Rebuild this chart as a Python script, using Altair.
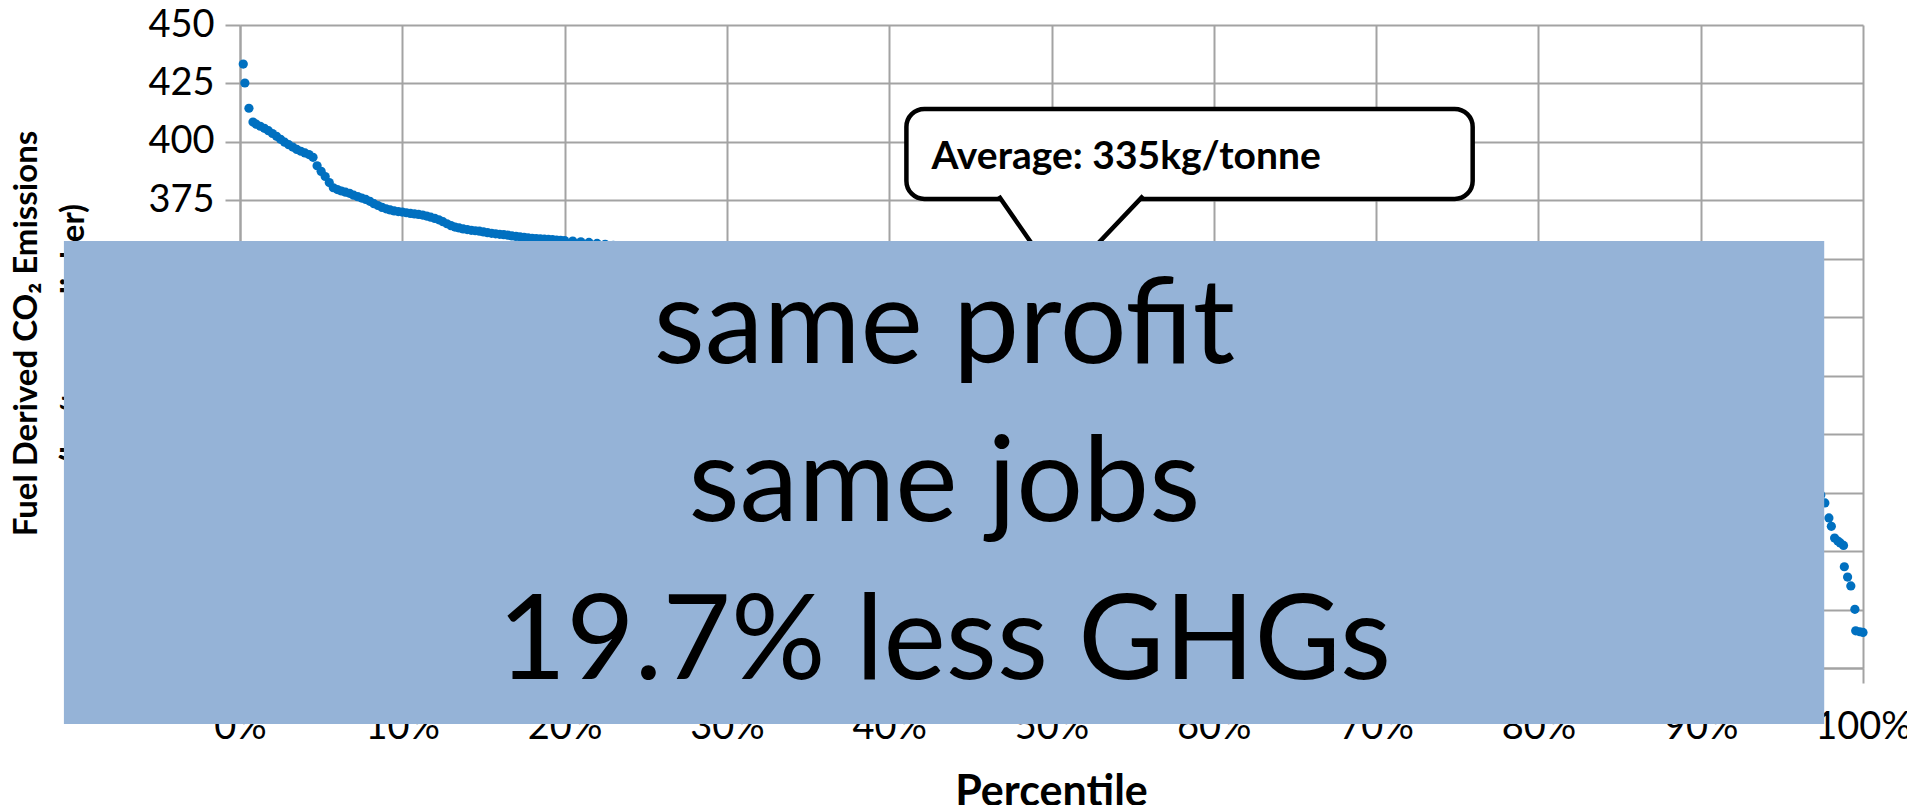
import altair as alt
import pandas as pd

# ---------------- data ----------------
# visible band on the left (percentile, kg CO2 / tonne)
pct_left = [0.2, 0.3, 0.55, 0.8,
            1.0, 1.25, 1.5, 1.75, 2.0, 2.25, 2.5, 2.75, 3.0, 3.25, 3.5, 3.75, 4.0, 4.25, 4.5, 4.75,
            5.0, 5.25, 5.5, 5.75, 6.0, 6.25, 6.5, 6.75, 7.0, 7.25, 7.5, 7.75, 8.0, 8.25, 8.5, 8.75,
            9.0, 9.25, 9.5, 9.75, 10.0, 10.25, 10.5, 10.75, 11.0, 11.25, 11.5, 11.75, 12.0, 12.25,
            12.5, 12.75, 13.0, 13.25, 13.5, 13.75, 14.0, 14.25, 14.5, 14.75, 15.0, 15.25, 15.5,
            15.75, 16.0, 16.25, 16.5, 16.75, 17.0, 17.25, 17.5, 17.75, 18.0, 18.25, 18.5, 18.75,
            19.0, 19.25, 19.5, 19.75, 20.0, 20.5, 21.0, 21.5, 22.0, 22.5, 23.0]
val_left = [433.3, 425.2, 414.4, 408.5,
            407.6, 406.7, 405.8, 404.8, 403.6, 402.4, 401.1, 399.9, 398.8, 397.8, 396.8, 396.0, 395.3, 394.6, 393.4, 389.8,
            387.4, 385.2, 382.6, 380.4, 379.6, 379.0, 378.5, 378.0, 377.2, 376.6, 376.0, 375.4, 374.6, 373.6, 372.8, 372.0,
            371.4, 370.9, 370.5, 370.2, 370.0, 369.7, 369.4, 369.2, 369.0, 368.7, 368.3, 367.8, 367.3, 366.7,
            365.9, 365.0, 364.2, 363.6, 363.2, 362.8, 362.5, 362.2, 362.0, 361.8, 361.5, 361.2, 360.9,
            360.7, 360.5, 360.3, 360.1, 359.8, 359.6, 359.4, 359.2, 359.0, 358.8, 358.6, 358.5, 358.4,
            358.3, 358.2, 358.0, 357.9, 357.8, 357.6, 357.3, 357.0, 356.6, 356.2, 355.8]

# middle part (covered by the overlay box, estimated)
pct_mid = [24, 25, 26, 27, 28, 29, 30, 31, 32, 33, 34, 35, 36, 37, 38, 39, 40, 41, 42, 43, 44, 45,
           46, 47, 48, 49, 50, 51, 52, 53, 54, 55, 56, 57, 58, 59, 60, 61, 62, 63, 64, 65, 66, 67,
           68, 69, 70, 71, 72, 73, 74, 75, 76, 77, 78, 79, 80, 81, 82, 83, 84, 85, 86, 87, 88, 89,
           90, 91, 92, 93, 94, 95, 96, 97, 97.4]
val_mid = [355.2, 354.6, 354.0, 353.2, 352.3, 351.4, 350.5, 349.6, 348.7, 347.8, 347.0, 346.1,
           345.3, 344.5, 343.7, 342.9, 342.1, 341.3, 340.5, 339.7, 338.9, 338.1, 337.3, 336.5,
           335.8, 335.0, 334.2, 333.4, 332.6, 331.8, 331.0, 330.2, 329.3, 328.5, 327.6, 326.7,
           325.8, 324.9, 324.0, 323.0, 322.0, 321.0, 320.0, 319.0, 318.0, 316.9, 315.8, 314.7,
           313.5, 312.3, 311.0, 309.7, 308.4, 307.0, 305.6, 304.1, 302.6, 301.0, 299.4, 297.7,
           295.9, 294.0, 292.0, 289.9, 287.6, 285.2, 282.6, 279.8, 276.7, 273.3, 269.5, 265.2,
           260.3, 254.5, 249.0]

# visible tail on the right
pct_right = [97.65, 97.9, 98.05, 98.25, 98.45, 98.6, 98.8, 98.85, 99.05, 99.25, 99.5, 99.55, 99.8, 100.0]
val_right = [245.6, 239.2, 235.6, 230.6, 229.3, 228.5, 227.4, 218.3, 213.9, 210.1, 200.1, 190.9, 190.5, 190.2]

x_ticks = [0, 10, 20, 30, 40, 50, 60, 70, 80, 90, 100]
y_ticks = [175, 200, 225, 250, 275, 300, 325, 350, 375, 400, 425, 450]
x_domain = [0, 100]
y_domain = [175, 450]

x_title = "Percentile"
y_title = ["Fuel Derived CO₂ Emissions", "(kg/tonne clinker)"]

# callout "Average" (data coordinates)
callout_label = ["Average: 335kg/tonne"]
callout_label_x = [42.6]
callout_label_y = [393.4]
callout_x = [41.06]
callout_x2 = [75.95]
callout_y = [414.1]
callout_y2 = [375.6]
pointer_x = [46.75, 50.5, 55.65]
pointer_top = [376.9, 376.9, 376.9]
pointer_tip = [376.9, 339.3, 376.9]

# overlay box with message
overlay_x = [-10.85]
overlay_x2 = [97.61]
overlay_y = [357.6]
overlay_y2 = [151.0]
overlay_lines = ["same profit", "same jobs", "19.7% less GHGs"]
overlay_cx = [43.4]
overlay_first_baseline = [305.5]

# ---------------- tables ----------------
df = pd.DataFrame({"pct": pct_left + pct_mid + pct_right,
                   "val": val_left + val_mid + val_right})
callout_df = pd.DataFrame({"x": callout_x, "x2": callout_x2, "y": callout_y, "y2": callout_y2})
pointer_df = pd.DataFrame({"x": pointer_x, "y": pointer_top, "y2": pointer_tip})
label_df = pd.DataFrame({"x": callout_label_x, "y": callout_label_y, "t": callout_label})
overlay_df = pd.DataFrame({"x": overlay_x, "x2": overlay_x2, "y": overlay_y, "y2": overlay_y2})
overlay_text_df = pd.DataFrame({"x": overlay_cx, "y": overlay_first_baseline,
                                "t": ["\n".join(overlay_lines)]})

FONT = "Lato"
GRID = "#a3a3a3"

xs = alt.Scale(domain=x_domain, nice=False, zero=False)
ys = alt.Scale(domain=y_domain, nice=False, zero=False)

x_axis = alt.Axis(
    values=x_ticks, labelExpr="datum.value + '%'", title=x_title, labelFlush=False,
    labelPadding=25, labelFontSize=38, titleFontSize=43,
    titleX=811, titleY=103, titleBaseline="top", titleAlign="center")
y_axis = alt.Axis(
    values=y_ticks, title=y_title, labelFlush=False, labelPadding=11, labelFontSize=38,
    titleFontSize=33, titleLineHeight=47, titleAngle=-90,
    titleX=-230, titleY=308, titleAlign="center", titleBaseline="top")


def X(field):
    return alt.X(field, type="quantitative", scale=xs, axis=x_axis)


def Y(field):
    return alt.Y(field, type="quantitative", scale=ys, axis=y_axis)


points = alt.Chart(df).mark_circle(size=85, color="#0070C0", opacity=1).encode(
    x=X("pct"), y=Y("val"))

callout_box = alt.Chart(callout_df).mark_rect(
    fill="white", stroke="black", strokeWidth=4.5, cornerRadius=18).encode(
    x=X("x"), x2="x2:Q", y=Y("y"), y2="y2:Q")

pointer_fill = alt.Chart(pointer_df).mark_area(color="white", opacity=1).encode(
    x=X("x"), y=Y("y"), y2="y2:Q")

pointer_line = alt.Chart(pointer_df).mark_line(color="black", strokeWidth=4.5).encode(
    x=X("x"), y=Y("y2"))

callout_text = alt.Chart(label_df).mark_text(
    font=FONT, fontSize=39, fontWeight="bold", align="left", baseline="middle",
    color="black").encode(x=X("x"), y=Y("y"), text="t:N")

overlay_box = alt.Chart(overlay_df).mark_rect(color="#95B3D7", opacity=1).encode(
    x=X("x"), x2="x2:Q", y=Y("y"), y2="y2:Q")

overlay_text = alt.Chart(overlay_text_df).mark_text(
    font=FONT, fontSize=118, align="center", baseline="alphabetic", lineBreak="\n",
    lineHeight=158, color="black").encode(x=X("x"), y=Y("y"), text="t:N")

chart = alt.layer(points, callout_box, pointer_fill, pointer_line, callout_text,
                  overlay_box, overlay_text).properties(
    width=1623, height=643,
    padding={"left": 232, "top": 17, "right": 44, "bottom": 137},
    autosize=alt.AutoSizeParams(type="none"),
).configure_axis(
    gridColor=GRID, gridWidth=2, domainColor=GRID, domainWidth=2,
    tickColor=GRID, tickWidth=2, tickSize=15,
    labelFont=FONT, labelColor="black", titleFont=FONT, titleColor="black",
    titleFontWeight="bold",
).configure_view(strokeOpacity=0)

chart.save("out.html", embed_options={"renderer": "svg", "actions": False})
